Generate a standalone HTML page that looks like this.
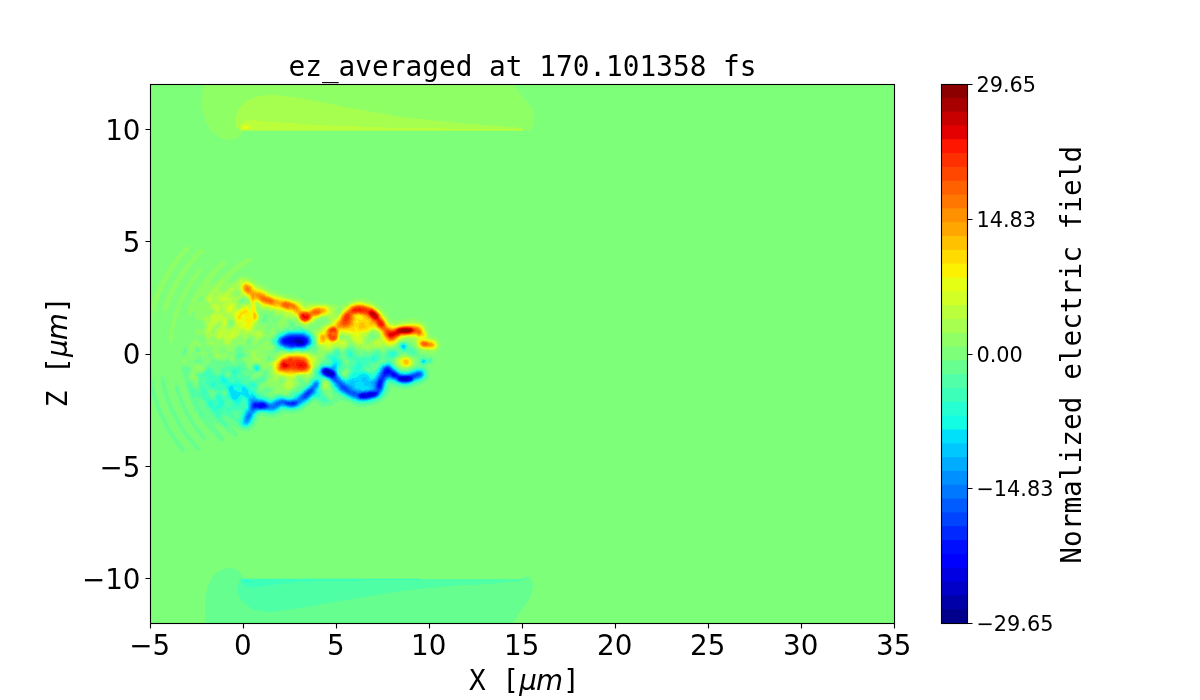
<!DOCTYPE html>
<html lang="en"><head><meta charset="utf-8"><title>ez_averaged at 170.101358 fs</title>
<style>html,body{margin:0;padding:0;background:#fff;width:1200px;height:700px;overflow:hidden}svg{display:block;will-change:transform}.t{font-family:"DejaVu Sans","Liberation Sans",sans-serif;font-size:27.78px;fill:#000}.c{font-family:"DejaVu Sans","Liberation Sans",sans-serif;font-size:20.83px;fill:#000}.m{font-family:"DejaVu Sans Mono","Liberation Mono",monospace;font-size:27.78px;fill:#000}.i{font-family:"DejaVu Sans","Liberation Sans",sans-serif;font-style:oblique;font-size:27.78px}</style></head><body>
<svg width="1200" height="700" viewBox="0 0 1200 700">
<defs>
<filter id="jet" filterUnits="userSpaceOnUse" x="150" y="84" width="744" height="539" color-interpolation-filters="sRGB"><feComponentTransfer><feFuncR type="discrete" tableValues="0.0000 0.0000 0.0000 0.0000 0.0000 0.0000 0.0000 0.0000 0.0000 0.0000 0.0000 0.0000 0.0000 0.0000 0.0745 0.1490 0.2353 0.3137 0.4000 0.4902 0.5647 0.6549 0.7294 0.8196 0.8941 0.9843 1.0000 1.0000 1.0000 1.0000 1.0000 1.0000 1.0000 1.0000 1.0000 0.8941 0.7843 0.6588 0.5529"/><feFuncG type="discrete" tableValues="0.0000 0.0000 0.0000 0.0000 0.0000 0.0627 0.1569 0.2667 0.3608 0.4706 0.5647 0.6745 0.7843 0.8784 0.9882 1.0000 1.0000 1.0000 1.0000 1.0000 1.0000 1.0000 1.0000 1.0000 1.0000 0.9451 0.8588 0.7569 0.6549 0.5686 0.4667 0.3765 0.2784 0.1882 0.0863 0.0000 0.0000 0.0000 0.0000"/><feFuncB type="discrete" tableValues="0.5529 0.6588 0.7843 0.8902 1.0000 1.0000 1.0000 1.0000 1.0000 1.0000 1.0000 1.0000 1.0000 0.9843 0.8941 0.8196 0.7294 0.6549 0.5647 0.4784 0.4000 0.3137 0.2353 0.1490 0.0745 0.0000 0.0000 0.0000 0.0000 0.0000 0.0000 0.0000 0.0000 0.0000 0.0000 0.0000 0.0000 0.0000 0.0000"/></feComponentTransfer></filter>
<filter id="b05" filterUnits="userSpaceOnUse" x="100" y="40" width="860" height="640" color-interpolation-filters="sRGB"><feGaussianBlur stdDeviation="0.5"/></filter>
<filter id="b1" filterUnits="userSpaceOnUse" x="100" y="40" width="860" height="640" color-interpolation-filters="sRGB"><feGaussianBlur stdDeviation="1"/></filter>
<filter id="b15" filterUnits="userSpaceOnUse" x="100" y="40" width="860" height="640" color-interpolation-filters="sRGB"><feGaussianBlur stdDeviation="1.5"/></filter>
<filter id="b2" filterUnits="userSpaceOnUse" x="100" y="40" width="860" height="640" color-interpolation-filters="sRGB"><feGaussianBlur stdDeviation="2"/></filter>
<filter id="b3" filterUnits="userSpaceOnUse" x="100" y="40" width="860" height="640" color-interpolation-filters="sRGB"><feGaussianBlur stdDeviation="3"/></filter>
<filter id="b5" filterUnits="userSpaceOnUse" x="100" y="40" width="860" height="640" color-interpolation-filters="sRGB"><feGaussianBlur stdDeviation="3.5"/></filter>
<filter id="b8" filterUnits="userSpaceOnUse" x="100" y="40" width="860" height="640" color-interpolation-filters="sRGB"><feGaussianBlur stdDeviation="8"/></filter>
<filter id="nzp" filterUnits="userSpaceOnUse" x="150" y="230" width="300" height="230" color-interpolation-filters="sRGB"><feTurbulence type="fractalNoise" baseFrequency="0.085" numOctaves="2" seed="7"/><feColorMatrix type="matrix" values="0 0 0 0 1  0 0 0 0 1  0 0 0 0 1  0.36 0 0 0 -0.18"/></filter>
<filter id="nzn" filterUnits="userSpaceOnUse" x="150" y="230" width="300" height="230" color-interpolation-filters="sRGB"><feTurbulence type="fractalNoise" baseFrequency="0.085" numOctaves="2" seed="7"/><feColorMatrix type="matrix" values="0 0 0 0 0  0 0 0 0 0  0 0 0 0 0  -0.36 0 0 0 0.18"/></filter>
<mask id="nm" maskUnits="userSpaceOnUse" x="150" y="230" width="300" height="230"><g filter="url(#b8)"><ellipse cx="300" cy="353" rx="105" ry="52" fill="#fff"/><ellipse cx="235" cy="353" rx="50" ry="62" fill="#fff"/></g></mask>
<clipPath id="ax"><rect x="150" y="84" width="744" height="539"/></clipPath>
</defs>
<rect width="1200" height="700" fill="#fff"/>
<g clip-path="url(#ax)"><g filter="url(#jet)">
<rect x="140" y="74" width="764" height="559" fill="#808080"/>
<g filter="url(#b05)"><path d="M203.0 80.0 L202.0 108.0 L206.0 122.0 L212.0 132.0 L220.0 138.0 L228.0 140.0 L236.0 139.0 L241.0 135.0 L243.0 130.0 L527.0 130.0 L531.0 131.0 L533.0 124.0 L533.0 110.0 L522.0 96.0 L510.0 80.0Z" fill="#868686" fill-opacity="1.00"/><path d="M236.0 128.0 L235.0 120.0 L238.0 110.0 L246.0 101.0 L258.0 96.0 L275.0 95.0 L300.0 98.0 L340.0 106.0 L401.0 117.0 L460.0 123.0 L500.0 126.0 L523.0 128.0 L523.0 130.0 L240.0 130.0Z" fill="#8d8d8d" fill-opacity="1.00"/><path d="M240.0 126.0 L243.0 122.0 L248.0 120.0 L256.0 120.5 L275.0 122.0 L315.0 125.0 L360.0 126.5 L400.0 128.0 L523.0 129.3 L523.0 130.5 L240.0 130.5Z" fill="#939393" fill-opacity="1.00"/><ellipse cx="246.5" cy="127.0" rx="5.0" ry="2.6" fill="#9a9a9a" fill-opacity="1.00"/><ellipse cx="245.5" cy="127.8" rx="2.6" ry="1.5" fill="#a0a0a0" fill-opacity="1.00"/></g>
<g filter="url(#b05)"><path d="M205.0 628.0 L205.0 600.0 L208.0 585.0 L214.0 575.0 L222.0 569.0 L231.0 567.5 L238.0 570.0 L242.0 576.0 L243.0 579.0 L520.0 579.0 L527.0 576.0 L532.0 579.0 L533.0 587.0 L530.0 598.0 L520.0 612.0 L510.0 628.0Z" fill="#797979" fill-opacity="1.00"/><path d="M240.0 579.0 L523.0 579.0 L523.0 581.0 L500.0 583.0 L450.0 586.0 L400.0 591.0 L340.0 601.0 L300.0 608.0 L270.0 612.0 L252.0 609.0 L241.0 600.0 L237.0 590.0Z" fill="#727272" fill-opacity="1.00"/><path d="M241.0 578.5 L315.0 578.5 L420.0 578.5 L420.0 579.6 L315.0 581.0 L290.0 582.5 L270.0 585.0 L255.0 587.5 L247.0 587.0 L243.0 584.0Z" fill="#6c6c6c" fill-opacity="1.00"/><ellipse cx="246.5" cy="581.0" rx="2.6" ry="1.3" fill="#656565" fill-opacity="1.00"/></g>
<g filter="url(#b8)"><ellipse cx="222.0" cy="316.0" rx="20.0" ry="30.0" fill="#fff" fill-opacity="0.13"/><ellipse cx="224.0" cy="392.0" rx="24.0" ry="27.0" fill="#000" fill-opacity="0.14"/><ellipse cx="365.0" cy="345.0" rx="42.0" ry="10.0" fill="#fff" fill-opacity="0.12"/><ellipse cx="365.0" cy="361.0" rx="42.0" ry="8.0" fill="#000" fill-opacity="0.20"/></g>
<g filter="url(#b15)"><path d="M146.1 347.6 L146.9 336.6 L148.4 325.7 L150.8 315.0 L153.9 304.4 L157.7 294.1 L162.3 284.0 L167.6 274.4 L173.5 265.1 L180.2 256.3 L187.4 248.0" fill="none" stroke="#fff" stroke-opacity="0.07" stroke-width="3.5" stroke-linecap="round" stroke-linejoin="round"/><path d="M164.9 309.1 L167.3 302.6 L169.9 296.2 L172.8 289.9 L176.0 283.7 L179.6 277.8 L183.4 272.0 L187.5 266.4 L191.9 261.0 L196.5 255.8 L201.4 250.9" fill="none" stroke="#fff" stroke-opacity="0.07" stroke-width="3.5" stroke-linecap="round" stroke-linejoin="round"/><path d="M170.5 341.7 L171.4 333.8 L172.8 326.0 L174.7 318.3 L177.1 310.7 L179.9 303.3 L183.2 296.0 L186.9 289.0 L191.0 282.2 L195.5 275.7 L200.4 269.4" fill="none" stroke="#fff" stroke-opacity="0.05" stroke-width="3.5" stroke-linecap="round" stroke-linejoin="round"/><path d="M189.1 312.6 L191.4 306.9 L193.9 301.3 L196.8 295.8 L199.9 290.5 L203.3 285.3 L207.0 280.4 L210.9 275.6 L215.1 271.0 L219.5 266.7 L224.2 262.6" fill="none" stroke="#fff" stroke-opacity="0.08" stroke-width="3.5" stroke-linecap="round" stroke-linejoin="round"/><path d="M208.2 300.0 L211.3 295.0 L214.7 290.1 L218.3 285.4 L222.2 281.0 L226.4 276.7 L230.7 272.8 L235.3 269.0 L240.1 265.5 L245.1 262.3 L250.2 259.4" fill="none" stroke="#fff" stroke-opacity="0.08" stroke-width="3.5" stroke-linecap="round" stroke-linejoin="round"/><path d="M206.9 339.9 L208.2 332.8 L210.0 325.8 L212.4 319.0 L215.2 312.4 L218.6 306.0 L222.4 299.9 L226.7 294.1 L231.5 288.7 L236.6 283.6 L242.1 278.9" fill="none" stroke="#fff" stroke-opacity="0.10" stroke-width="3.5" stroke-linecap="round" stroke-linejoin="round"/><path d="M219.2 338.8 L220.6 332.5 L222.5 326.3 L224.8 320.3 L227.6 314.5 L230.8 308.9 L234.5 303.7 L238.6 298.7 L243.0 294.0 L247.8 289.7 L253.0 285.8" fill="none" stroke="#fff" stroke-opacity="0.10" stroke-width="3.5" stroke-linecap="round" stroke-linejoin="round"/><path d="M231.5 338.4 L233.0 332.8 L234.9 327.2 L237.3 321.9 L240.1 316.7 L243.4 311.9 L247.0 307.3 L251.0 303.0 L255.4 299.1 L260.1 295.5 L265.0 292.4" fill="none" stroke="#fff" stroke-opacity="0.10" stroke-width="3.5" stroke-linecap="round" stroke-linejoin="round"/><path d="M244.0 338.0 L245.4 333.4 L247.2 329.0 L249.3 324.8 L251.8 320.7 L254.6 316.9 L257.7 313.3 L261.1 310.0 L264.8 306.9 L268.7 304.2 L272.8 301.8" fill="none" stroke="#fff" stroke-opacity="0.10" stroke-width="3.5" stroke-linecap="round" stroke-linejoin="round"/><path d="M148.2 361.0 L149.0 370.7 L150.5 380.4 L152.6 390.0 L155.3 399.5 L158.6 408.7 L162.5 417.7 L166.9 426.5 L171.9 434.9 L177.5 443.0 L183.6 450.7" fill="none" stroke="#000" stroke-opacity="0.06" stroke-width="3.5" stroke-linecap="round" stroke-linejoin="round"/><path d="M162.1 377.3 L163.8 385.4 L166.0 393.5 L168.6 401.3 L171.7 409.0 L175.3 416.6 L179.2 423.8 L183.7 430.9 L188.5 437.6 L193.7 444.1 L199.3 450.3" fill="none" stroke="#000" stroke-opacity="0.06" stroke-width="3.5" stroke-linecap="round" stroke-linejoin="round"/><path d="M176.4 386.1 L178.1 391.9 L180.0 397.6 L182.3 403.2 L184.8 408.7 L187.5 414.1 L190.5 419.3 L193.8 424.4 L197.2 429.3 L200.9 434.1 L204.9 438.6" fill="none" stroke="#000" stroke-opacity="0.06" stroke-width="3.5" stroke-linecap="round" stroke-linejoin="round"/><path d="M185.1 369.1 L186.5 377.1 L188.5 385.0 L191.0 392.7 L194.0 400.2 L197.6 407.5 L201.6 414.5 L206.2 421.2 L211.1 427.6 L216.6 433.6 L222.4 439.2" fill="none" stroke="#000" stroke-opacity="0.08" stroke-width="3.5" stroke-linecap="round" stroke-linejoin="round"/><path d="M198.3 374.6 L200.0 381.7 L202.3 388.6 L205.0 395.3 L208.2 401.8 L211.8 408.1 L215.9 414.1 L220.3 419.8 L225.2 425.2 L230.4 430.3 L236.0 435.0" fill="none" stroke="#000" stroke-opacity="0.08" stroke-width="3.5" stroke-linecap="round" stroke-linejoin="round"/><path d="M208.9 365.8 L210.1 372.8 L211.9 379.6 L214.2 386.3 L217.0 392.8 L220.3 399.0 L224.1 405.0 L228.3 410.6 L232.9 416.0 L238.0 420.9 L243.4 425.5" fill="none" stroke="#000" stroke-opacity="0.08" stroke-width="3.5" stroke-linecap="round" stroke-linejoin="round"/><path d="M221.2 366.9 L222.4 372.6 L224.1 378.3 L226.1 383.7 L228.6 389.1 L231.4 394.2 L234.6 399.1 L238.2 403.8 L242.1 408.2 L246.3 412.3 L250.7 416.0" fill="none" stroke="#000" stroke-opacity="0.07" stroke-width="3.5" stroke-linecap="round" stroke-linejoin="round"/><path d="M233.5 367.1 L234.7 372.1 L236.3 376.9 L238.3 381.6 L240.6 386.2 L243.3 390.5 L246.3 394.7 L249.5 398.6 L253.1 402.2 L256.9 405.6 L261.0 408.7" fill="none" stroke="#000" stroke-opacity="0.06" stroke-width="3.5" stroke-linecap="round" stroke-linejoin="round"/><path d="M245.9 367.5 L247.1 371.2 L248.5 374.9 L250.1 378.4 L252.0 381.8 L254.1 385.1 L256.5 388.2 L259.0 391.2 L261.8 394.0 L264.8 396.5 L267.9 398.9" fill="none" stroke="#000" stroke-opacity="0.05" stroke-width="3.5" stroke-linecap="round" stroke-linejoin="round"/></g>
<g filter="url(#b3)"><ellipse cx="245.0" cy="319.0" rx="10.0" ry="13.0" fill="#fff" fill-opacity="0.27"/><ellipse cx="257.0" cy="335.0" rx="4.0" ry="4.0" fill="#fff" fill-opacity="0.30"/><ellipse cx="282.0" cy="324.0" rx="4.0" ry="4.0" fill="#fff" fill-opacity="0.25"/><ellipse cx="240.0" cy="392.0" rx="12.0" ry="14.0" fill="#000" fill-opacity="0.15"/><ellipse cx="249.0" cy="386.0" rx="6.0" ry="6.0" fill="#000" fill-opacity="0.12"/><ellipse cx="358.0" cy="324.0" rx="17.0" ry="9.0" fill="#fff" fill-opacity="0.42"/><ellipse cx="362.0" cy="381.0" rx="17.0" ry="9.0" fill="#000" fill-opacity="0.33"/><ellipse cx="245.0" cy="370.0" rx="4.0" ry="4.0" fill="#fff" fill-opacity="0.12"/><ellipse cx="255.0" cy="351.0" rx="4.0" ry="3.5" fill="#fff" fill-opacity="0.18"/><ellipse cx="288.0" cy="386.0" rx="4.0" ry="4.0" fill="#fff" fill-opacity="0.30"/><ellipse cx="326.0" cy="384.0" rx="4.0" ry="4.5" fill="#fff" fill-opacity="0.28"/><ellipse cx="346.0" cy="373.0" rx="4.0" ry="3.5" fill="#fff" fill-opacity="0.22"/><ellipse cx="377.0" cy="362.0" rx="4.0" ry="3.5" fill="#fff" fill-opacity="0.20"/><ellipse cx="404.0" cy="363.0" rx="10.0" ry="6.0" fill="#fff" fill-opacity="0.25"/><ellipse cx="406.0" cy="362.0" rx="4.5" ry="4.0" fill="#fff" fill-opacity="0.30"/><ellipse cx="403.0" cy="346.0" rx="3.0" ry="3.0" fill="#000" fill-opacity="0.30"/><ellipse cx="424.0" cy="336.0" rx="2.5" ry="2.0" fill="#fff" fill-opacity="0.30"/><ellipse cx="324.0" cy="399.0" rx="4.0" ry="2.5" fill="#000" fill-opacity="0.35"/><ellipse cx="343.0" cy="342.0" rx="5.0" ry="4.0" fill="#fff" fill-opacity="0.16"/><ellipse cx="358.0" cy="339.0" rx="6.0" ry="4.0" fill="#fff" fill-opacity="0.14"/><ellipse cx="376.0" cy="343.0" rx="5.0" ry="4.0" fill="#fff" fill-opacity="0.16"/><ellipse cx="393.0" cy="346.0" rx="4.0" ry="3.0" fill="#fff" fill-opacity="0.12"/><ellipse cx="330.0" cy="347.0" rx="4.0" ry="4.0" fill="#fff" fill-opacity="0.15"/><ellipse cx="350.0" cy="353.0" rx="6.0" ry="4.0" fill="#000" fill-opacity="0.20"/><ellipse cx="372.0" cy="357.0" rx="8.0" ry="5.0" fill="#000" fill-opacity="0.20"/><ellipse cx="392.0" cy="353.0" rx="6.0" ry="4.0" fill="#000" fill-opacity="0.22"/><ellipse cx="412.0" cy="352.0" rx="5.0" ry="4.0" fill="#000" fill-opacity="0.20"/><ellipse cx="336.0" cy="358.0" rx="5.0" ry="4.0" fill="#000" fill-opacity="0.20"/><ellipse cx="424.0" cy="360.0" rx="2.5" ry="2.0" fill="#000" fill-opacity="0.30"/><ellipse cx="318.0" cy="392.0" rx="5.0" ry="6.0" fill="#000" fill-opacity="0.22"/></g>
<g filter="url(#b5)"><path d="M246.0 287.0 L249.0 291.0 L253.0 294.0 L259.0 295.0 L263.0 298.5 L268.0 300.5 L274.0 302.5 L280.0 304.0 L288.0 305.5 L294.0 307.5 L298.0 310.5 L301.0 314.5 L305.0 317.5 L309.0 315.5 L313.0 312.5 L318.0 311.5 L324.0 311.0" fill="none" stroke="#fff" stroke-opacity="0.28" stroke-width="13.0" stroke-linecap="round" stroke-linejoin="round"/><path d="M322.0 338.0 L327.0 335.0 L332.0 333.0 L337.0 328.0 L342.0 322.0 L347.0 316.0 L352.0 311.0 L356.0 309.0 L360.0 308.5 L365.0 310.0 L370.0 312.0 L374.0 315.5 L378.0 320.0 L381.0 324.0 L384.0 328.0 L387.0 332.0 L390.0 336.0" fill="none" stroke="#fff" stroke-opacity="0.30" stroke-width="13.0" stroke-linecap="round" stroke-linejoin="round"/><path d="M391.0 335.5 L396.0 333.0 L400.0 331.5 L405.0 330.5 L411.0 330.0 L416.0 330.0 L418.5 331.0" fill="none" stroke="#fff" stroke-opacity="0.30" stroke-width="13.0" stroke-linecap="round" stroke-linejoin="round"/><path d="M421.0 343.5 L433.0 345.0" fill="none" stroke="#fff" stroke-opacity="0.25" stroke-width="9.0" stroke-linecap="round" stroke-linejoin="round"/><path d="M246.0 422.0 L249.0 416.0 L252.0 410.0 L255.0 405.0 L258.0 404.0 L262.0 405.0 L267.0 406.5 L272.0 407.5 L277.0 404.0 L282.0 401.5 L287.0 403.0 L292.0 404.0 L297.0 402.0 L302.0 399.5 L306.0 395.5 L310.0 391.0 L314.0 386.5 L317.0 382.0" fill="none" stroke="#000" stroke-opacity="0.26" stroke-width="11.0" stroke-linecap="round" stroke-linejoin="round"/><path d="M324.0 371.0 L328.0 373.0 L332.0 375.5 L336.0 380.0 L340.0 385.0 L345.0 389.0 L350.0 392.0 L355.0 394.5 L360.0 396.0 L365.0 396.0 L370.0 395.0 L375.0 393.5 L378.0 391.0 L379.5 386.0 L381.0 381.0 L383.5 375.5 L387.0 369.5" fill="none" stroke="#000" stroke-opacity="0.30" stroke-width="12.0" stroke-linecap="round" stroke-linejoin="round"/><path d="M389.5 372.0 L393.0 374.5 L397.0 376.5 L401.0 378.0 L405.0 379.5 L409.0 378.0 L413.0 376.5 L417.0 375.0 L420.5 374.0" fill="none" stroke="#000" stroke-opacity="0.30" stroke-width="11.0" stroke-linecap="round" stroke-linejoin="round"/><ellipse cx="295.0" cy="341.0" rx="20.0" ry="10.0" fill="#000" fill-opacity="0.38"/><ellipse cx="294.0" cy="364.5" rx="22.0" ry="12.0" fill="#fff" fill-opacity="0.38" transform="rotate(-5 294.0 364.5)"/></g>
<g filter="url(#b2)"><path d="M246.0 287.0 L249.0 291.0 L253.0 294.0 L259.0 295.0 L263.0 298.5 L268.0 300.5 L274.0 302.5 L280.0 304.0 L288.0 305.5 L294.0 307.5 L298.0 310.5 L301.0 314.5 L305.0 317.5 L309.0 315.5 L313.0 312.5 L318.0 311.5 L324.0 311.0" fill="none" stroke="#fff" stroke-opacity="0.32" stroke-width="7.0" stroke-linecap="round" stroke-linejoin="round"/><path d="M322.0 338.0 L327.0 335.0 L332.0 333.0 L337.0 328.0 L342.0 322.0 L347.0 316.0" fill="none" stroke="#fff" stroke-opacity="0.26" stroke-width="7.0" stroke-linecap="round" stroke-linejoin="round"/><path d="M347.0 316.0 L352.0 311.0 L356.0 309.0 L360.0 308.5 L365.0 310.0 L370.0 312.0 L374.0 315.5 L378.0 320.0 L381.0 324.0 L384.0 328.0 L387.0 332.0 L390.0 336.0" fill="none" stroke="#fff" stroke-opacity="0.44" stroke-width="8.0" stroke-linecap="round" stroke-linejoin="round"/><path d="M391.0 335.5 L396.0 333.0 L400.0 331.5 L405.0 330.5 L411.0 330.0 L416.0 330.0 L418.5 331.0" fill="none" stroke="#fff" stroke-opacity="0.55" stroke-width="7.0" stroke-linecap="round" stroke-linejoin="round"/><path d="M421.0 343.5 L433.0 345.0" fill="none" stroke="#fff" stroke-opacity="0.55" stroke-width="5.0" stroke-linecap="round" stroke-linejoin="round"/><path d="M255.0 405.0 L258.0 404.0 L262.0 405.0 L267.0 406.5 L272.0 407.5 L277.0 404.0 L282.0 401.5 L287.0 403.0 L292.0 404.0 L297.0 402.0 L302.0 399.5 L306.0 395.5" fill="none" stroke="#000" stroke-opacity="0.44" stroke-width="6.5" stroke-linecap="round" stroke-linejoin="round"/><path d="M246.0 422.0 L249.0 416.0 L252.0 410.0 L255.0 405.0" fill="none" stroke="#000" stroke-opacity="0.40" stroke-width="5.5" stroke-linecap="round" stroke-linejoin="round"/><path d="M306.0 395.5 L310.0 391.0 L314.0 386.5 L317.0 382.0" fill="none" stroke="#000" stroke-opacity="0.38" stroke-width="5.5" stroke-linecap="round" stroke-linejoin="round"/><ellipse cx="259.0" cy="404.5" rx="6.0" ry="5.5" fill="#000" fill-opacity="0.30"/><path d="M324.0 371.0 L328.0 373.0 L332.0 375.5 L336.0 380.0 L340.0 385.0 L345.0 389.0 L350.0 392.0 L355.0 394.5 L360.0 396.0 L365.0 396.0 L370.0 395.0 L375.0 393.5 L378.0 391.0 L379.5 386.0 L381.0 381.0 L383.5 375.5 L387.0 369.5" fill="none" stroke="#000" stroke-opacity="0.50" stroke-width="6.5" stroke-linecap="round" stroke-linejoin="round"/><path d="M389.5 372.0 L393.0 374.5 L397.0 376.5 L401.0 378.0 L405.0 379.5 L409.0 378.0 L413.0 376.5 L417.0 375.0 L420.5 374.0" fill="none" stroke="#000" stroke-opacity="0.55" stroke-width="6.0" stroke-linecap="round" stroke-linejoin="round"/><path d="M332.0 370.0 L337.0 363.0" fill="none" stroke="#000" stroke-opacity="0.40" stroke-width="4.0" stroke-linecap="round" stroke-linejoin="round"/><path d="M250.0 406.0 L255.0 394.0" fill="none" stroke="#000" stroke-opacity="0.35" stroke-width="4.0" stroke-linecap="round" stroke-linejoin="round"/><ellipse cx="295.0" cy="341.0" rx="16.0" ry="6.5" fill="#000" fill-opacity="0.60"/><path d="M277.5 370.5 L279.5 364.0 L284.0 358.5 L291.0 356.5 L299.0 357.5 L306.0 359.0 L310.5 363.0 L311.0 368.0 L308.0 371.0 L300.0 371.5 L291.0 370.0 L284.0 371.5Z" fill="#fff" fill-opacity="0.55"/></g>
<g filter="url(#b15)"><path d="M252.5 297.0 L253.0 305.0 L254.5 312.0 L256.0 319.0" fill="none" stroke="#fff" stroke-opacity="0.40" stroke-width="3.5" stroke-linecap="round" stroke-linejoin="round"/><ellipse cx="246.5" cy="288.0" rx="4.0" ry="4.5" fill="#fff" fill-opacity="0.14"/><ellipse cx="267.0" cy="300.0" rx="7.5" ry="4.0" fill="#fff" fill-opacity="0.24" transform="rotate(15 267.0 300.0)"/><ellipse cx="289.0" cy="305.5" rx="7.5" ry="4.0" fill="#fff" fill-opacity="0.30" transform="rotate(15 289.0 305.5)"/><ellipse cx="317.0" cy="312.0" rx="6.0" ry="3.5" fill="#fff" fill-opacity="0.24" transform="rotate(-10 317.0 312.0)"/><ellipse cx="346.0" cy="321.0" rx="5.0" ry="5.0" fill="#fff" fill-opacity="0.15"/><ellipse cx="322.0" cy="340.0" rx="3.0" ry="4.0" fill="#fff" fill-opacity="0.25"/><ellipse cx="305.0" cy="317.0" rx="5.5" ry="5.0" fill="#fff" fill-opacity="0.62"/><ellipse cx="333.0" cy="334.0" rx="5.5" ry="7.5" fill="#fff" fill-opacity="0.72"/><ellipse cx="356.0" cy="310.0" rx="6.0" ry="3.5" fill="#fff" fill-opacity="0.25"/><ellipse cx="363.0" cy="310.5" rx="11.0" ry="4.0" fill="#fff" fill-opacity="0.35"/><ellipse cx="374.0" cy="315.0" rx="6.0" ry="4.0" fill="#fff" fill-opacity="0.70" transform="rotate(40 374.0 315.0)"/><ellipse cx="381.0" cy="324.0" rx="3.5" ry="5.5" fill="#fff" fill-opacity="0.50" transform="rotate(-30 381.0 324.0)"/><ellipse cx="405.0" cy="330.5" rx="9.0" ry="3.2" fill="#fff" fill-opacity="0.85"/><ellipse cx="396.0" cy="333.0" rx="4.0" ry="3.0" fill="#fff" fill-opacity="0.40"/><ellipse cx="424.5" cy="344.0" rx="3.0" ry="2.5" fill="#fff" fill-opacity="0.30"/><ellipse cx="419.5" cy="334.0" rx="2.0" ry="3.0" fill="#fff" fill-opacity="0.30"/><ellipse cx="403.5" cy="346.5" rx="3.0" ry="3.0" fill="#000" fill-opacity="0.30"/><ellipse cx="423.5" cy="361.5" rx="2.2" ry="2.0" fill="#000" fill-opacity="0.50"/><ellipse cx="430.0" cy="360.5" rx="1.6" ry="1.5" fill="#000" fill-opacity="0.40"/><ellipse cx="406.0" cy="362.0" rx="3.0" ry="3.5" fill="#fff" fill-opacity="0.22"/><ellipse cx="424.5" cy="335.0" rx="2.0" ry="2.0" fill="#fff" fill-opacity="0.30"/><ellipse cx="287.0" cy="363.5" rx="6.0" ry="4.5" fill="#fff" fill-opacity="0.52"/><ellipse cx="301.5" cy="365.5" rx="4.5" ry="4.0" fill="#fff" fill-opacity="0.28"/><ellipse cx="298.0" cy="342.0" rx="8.0" ry="3.2" fill="#000" fill-opacity="0.60"/><ellipse cx="263.0" cy="406.0" rx="5.0" ry="3.5" fill="#000" fill-opacity="0.40"/><ellipse cx="291.0" cy="403.5" rx="6.0" ry="2.5" fill="#000" fill-opacity="0.38"/><ellipse cx="310.0" cy="392.0" rx="3.5" ry="3.5" fill="#000" fill-opacity="0.25"/><ellipse cx="257.0" cy="368.5" rx="2.5" ry="3.0" fill="#000" fill-opacity="0.30"/><ellipse cx="329.0" cy="372.5" rx="7.0" ry="3.8" fill="#000" fill-opacity="0.70" transform="rotate(20 329.0 372.5)"/><ellipse cx="368.0" cy="395.0" rx="10.0" ry="3.0" fill="#000" fill-opacity="0.65" transform="rotate(-8 368.0 395.0)"/><ellipse cx="405.0" cy="379.0" rx="8.0" ry="2.8" fill="#000" fill-opacity="0.70"/><ellipse cx="380.0" cy="384.0" rx="2.5" ry="5.0" fill="#000" fill-opacity="0.30"/><ellipse cx="394.0" cy="375.0" rx="4.0" ry="2.5" fill="#000" fill-opacity="0.40"/></g>
<g mask="url(#nm)"><rect x="150" y="230" width="300" height="230" filter="url(#nzp)"/><rect x="150" y="230" width="300" height="230" filter="url(#nzn)"/></g>
</g></g>
<rect x="941.50" y="84.000" width="26.00" height="539.500" fill="#8d0000"/>
<rect x="941.50" y="97.821" width="26.00" height="525.679" fill="#a80000"/>
<rect x="941.50" y="111.641" width="26.00" height="511.859" fill="#c80000"/>
<rect x="941.50" y="125.462" width="26.00" height="498.038" fill="#e40000"/>
<rect x="941.50" y="139.282" width="26.00" height="484.218" fill="#ff1600"/>
<rect x="941.50" y="153.103" width="26.00" height="470.397" fill="#ff3000"/>
<rect x="941.50" y="166.923" width="26.00" height="456.577" fill="#ff4700"/>
<rect x="941.50" y="180.744" width="26.00" height="442.756" fill="#ff6000"/>
<rect x="941.50" y="194.564" width="26.00" height="428.936" fill="#ff7700"/>
<rect x="941.50" y="208.385" width="26.00" height="415.115" fill="#ff9100"/>
<rect x="941.50" y="222.205" width="26.00" height="401.295" fill="#ffa700"/>
<rect x="941.50" y="236.026" width="26.00" height="387.474" fill="#ffc100"/>
<rect x="941.50" y="249.846" width="26.00" height="373.654" fill="#ffdb00"/>
<rect x="941.50" y="263.667" width="26.00" height="359.833" fill="#fbf100"/>
<rect x="941.50" y="277.487" width="26.00" height="346.013" fill="#e4ff13"/>
<rect x="941.50" y="291.308" width="26.00" height="332.192" fill="#d1ff26"/>
<rect x="941.50" y="305.128" width="26.00" height="318.372" fill="#baff3c"/>
<rect x="941.50" y="318.949" width="26.00" height="304.551" fill="#a7ff50"/>
<rect x="941.50" y="332.769" width="26.00" height="290.731" fill="#90ff66"/>
<rect x="941.50" y="346.590" width="26.00" height="276.910" fill="#7dff7a"/>
<rect x="941.50" y="360.410" width="26.00" height="263.090" fill="#66ff90"/>
<rect x="941.50" y="374.231" width="26.00" height="249.269" fill="#50ffa7"/>
<rect x="941.50" y="388.051" width="26.00" height="235.449" fill="#3cffba"/>
<rect x="941.50" y="401.872" width="26.00" height="221.628" fill="#26ffd1"/>
<rect x="941.50" y="415.692" width="26.00" height="207.808" fill="#13fce4"/>
<rect x="941.50" y="429.513" width="26.00" height="193.987" fill="#00e0fb"/>
<rect x="941.50" y="443.333" width="26.00" height="180.167" fill="#00c8ff"/>
<rect x="941.50" y="457.154" width="26.00" height="166.346" fill="#00acff"/>
<rect x="941.50" y="470.974" width="26.00" height="152.526" fill="#0090ff"/>
<rect x="941.50" y="484.795" width="26.00" height="138.705" fill="#0078ff"/>
<rect x="941.50" y="498.615" width="26.00" height="124.885" fill="#005cff"/>
<rect x="941.50" y="512.436" width="26.00" height="111.064" fill="#0044ff"/>
<rect x="941.50" y="526.256" width="26.00" height="97.244" fill="#0028ff"/>
<rect x="941.50" y="540.077" width="26.00" height="83.423" fill="#0010ff"/>
<rect x="941.50" y="553.897" width="26.00" height="69.603" fill="#0000ff"/>
<rect x="941.50" y="567.718" width="26.00" height="55.782" fill="#0000e3"/>
<rect x="941.50" y="581.538" width="26.00" height="41.962" fill="#0000c8"/>
<rect x="941.50" y="595.359" width="26.00" height="28.141" fill="#0000a8"/>
<rect x="941.50" y="609.179" width="26.00" height="14.321" fill="#00008d"/>
<rect x="941.5" y="84.5" width="26" height="539" fill="none" stroke="#000" stroke-width="1.11"/>
<path d="M967.50 84.5h5M967.50 219.5h5M967.50 354.5h5M967.50 488.5h5M967.50 623.5h5" stroke="#000" stroke-width="1.11" fill="none"/>
<text class="c" x="976.42" y="91.92">29.65</text>
<text class="c" x="976.42" y="226.66">14.83</text>
<text class="c" x="976.42" y="362.00">0.00</text>
<text class="c" x="976.42" y="496.17">−14.83</text>
<text class="c" x="976.42" y="630.91">−29.65</text>
<text class="m" text-anchor="middle" transform="translate(1080.58 354.8) rotate(-90)">Normalized electric field</text>
<rect x="150.5" y="84.5" width="744" height="539" fill="none" stroke="#000" stroke-width="1.11"/>
<path d="M150.5 623.5v5M243.5 623.5v5M336.5 623.5v5M429.5 623.5v5M522.5 623.5v5M615.5 623.5v5M708.5 623.5v5M801.5 623.5v5M894.5 623.5v5" stroke="#000" stroke-width="1.11" fill="none"/>
<path d="M150.5 129.5h-5M150.5 241.5h-5M150.5 354.5h-5M150.5 466.5h-5M150.5 578.5h-5" stroke="#000" stroke-width="1.11" fill="none"/>
<text class="t" text-anchor="middle" x="149.75" y="654.7">−5</text>
<text class="t" text-anchor="middle" x="242.75" y="654.7">0</text>
<text class="t" text-anchor="middle" x="335.75" y="654.7">5</text>
<text class="t" text-anchor="middle" x="428.75" y="654.7">10</text>
<text class="t" text-anchor="middle" x="521.75" y="654.7">15</text>
<text class="t" text-anchor="middle" x="614.75" y="654.7">20</text>
<text class="t" text-anchor="middle" x="707.75" y="654.7">25</text>
<text class="t" text-anchor="middle" x="800.75" y="654.7">30</text>
<text class="t" text-anchor="middle" x="893.75" y="654.7">35</text>
<text class="t" text-anchor="end" x="140.5" y="140.15">10</text>
<text class="t" text-anchor="end" x="140.5" y="252.15">5</text>
<text class="t" text-anchor="end" x="140.5" y="364.15">0</text>
<text class="t" text-anchor="end" x="140.5" y="476.55">−5</text>
<text class="t" text-anchor="end" x="140.5" y="588.65">−10</text>
<text class="m" text-anchor="middle" x="522.5" y="75.67">ez_averaged at 170.101358 fs</text>
<text class="m" transform="translate(466.17 691.36)"><tspan x="2.9" y="-1.11">X</tspan><tspan x="36.15" y="-1.11">[</tspan><tspan class="i" x="53.07" y="-1.11">μ</tspan><tspan class="i" x="69.84" y="-1.11">m</tspan><tspan x="96.90" y="-1.11">]</tspan></text>
<text class="m" transform="translate(67.77 410.08) rotate(-90)"><tspan x="2.9" y="-1.11">Z</tspan><tspan x="36.15" y="-1.11">[</tspan><tspan class="i" x="53.07" y="-1.11">μ</tspan><tspan class="i" x="69.84" y="-1.11">m</tspan><tspan x="96.90" y="-1.11">]</tspan></text>
</svg></body></html>
